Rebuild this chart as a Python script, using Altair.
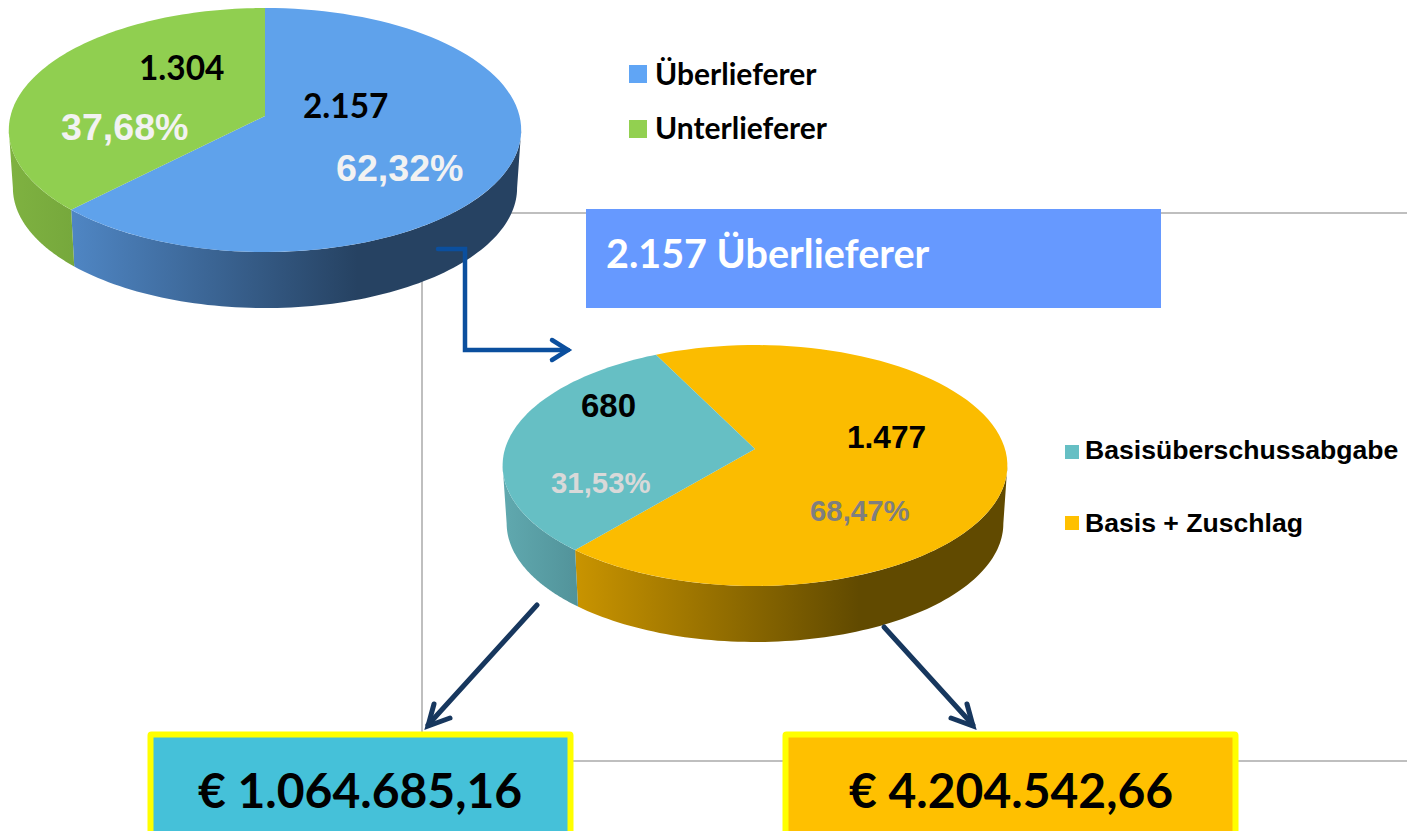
import math
import altair as alt
import pandas as pd

# ---- values ----
pie1_values = [2157, 1304]
pie2_values = [1477, 680]
pie1_names = ["Überlieferer", "Unterlieferer"]
pie2_names = ["Basisüberschussabgabe", "Basis + Zuschlag"]
pie1_number_labels = ["2.157", "1.304"]
pie1_percent_labels = ["62,32%", "37,68%"]
pie2_number_labels = ["1.477", "680"]
pie2_percent_labels = ["68,47%", "31,53%"]
header_text = "2.157 Überlieferer"
money_labels = ["€ 1.064.685,16", "€ 4.204.542,66"]

W, H = 1415, 839
xs = alt.Scale(domain=[8, W - 8], range=[0, W - 16], nice=False, zero=False)
ys = alt.Scale(domain=[H - 8, 8], range=[H - 16, 0], nice=False, zero=False)
X = alt.X("x:Q", scale=xs, axis=None)
Y = alt.Y("y:Q", scale=ys, axis=None)
X2 = alt.X2("x2:Q")
Y2 = alt.Y2("y2:Q")


def proj(deg, geo, lower=False):
    t = math.radians(deg)
    u, v = math.sin(t), -math.cos(t)
    d = 1 - geo["p"] * v
    if lower:
        k = geo["shrink"]
        return geo["B"] * k * u / d, geo["drop"] + geo["A"] * k * v / d
    return geo["B"] * u / d, geo["A"] * v / d


def sweep(a, b, geo, lower=False, n=90):
    return [proj(a + (b - a) * i / n, geo, lower) for i in range(n + 1)]


def to_path(points):
    return "M" + "L".join(f"{px:.2f},{py:.2f}" for px, py in points) + "Z"


def sector(a, b, geo):
    return to_path([(0, 0)] + sweep(a, b, geo))


def wall(a, b, geo):
    return to_path(sweep(a, b, geo) + sweep(b, a, geo, lower=True))


def grad(stops):
    return alt.LinearGradient(
        gradient="linear", x1=0, x2=1, y1=0, y2=0,
        stops=[alt.GradientStop(offset=o, color=c) for o, c in stops],
    )


def shape_layer(cx, cy, path, fill):
    return (
        alt.Chart(pd.DataFrame({"x": [cx], "y": [cy]}))
        .mark_point(filled=True, shape=path, size=4, fill=fill, opacity=1, strokeOpacity=0, strokeWidth=0)
        .encode(x=X, y=Y)
    )


def pie_layers(values, start, geo, top_cols, wall_grads):
    cx, cy = geo["cx"], geo["cy"]
    total = sum(values)
    a0 = start
    a1 = start + 360 * values[0] / total
    a2 = start + 360
    left_ext = 270 - math.degrees(math.asin(geo["p"]))
    right_ext = 90 + math.degrees(math.asin(geo["p"]))
    split = a1 % 360
    return [
        shape_layer(cx, cy, wall(right_ext, split, geo), wall_grads[0]),
        shape_layer(cx, cy, wall(split, left_ext, geo), wall_grads[1]),
        shape_layer(cx, cy, sector(a0, a1, geo), top_cols[0]),
        shape_layer(cx, cy, sector(a1, a2, geo), top_cols[1]),
    ]


def rule_layer(x, y, x2, y2):
    return (
        alt.Chart(pd.DataFrame({"x": [x], "y": [y], "x2": [x2], "y2": [y2]}))
        .mark_rule(color="#BFBFBF", strokeWidth=2)
        .encode(x=X, y=Y, x2=X2, y2=Y2)
    )


def rect_layer(x, y, x2, y2, fill, **kw):
    return (
        alt.Chart(pd.DataFrame({"x": [x], "y": [y], "x2": [x2], "y2": [y2]}))
        .mark_rect(fill=fill, opacity=1, **kw)
        .encode(x=X, y=Y, x2=X2, y2=Y2)
    )


def line_layer(xv, yv, color, width):
    return (
        alt.Chart(pd.DataFrame({"x": xv, "y": yv, "o": list(range(len(xv)))}))
        .mark_line(color=color, strokeWidth=width, strokeCap="round", strokeJoin="miter")
        .encode(x=X, y=Y, order="o:O")
    )


def text_layer(x, y, txt, size, color, font):
    return (
        alt.Chart(pd.DataFrame({"x": [x], "y": [y], "t": [txt]}))
        .mark_text(align="left", baseline="alphabetic", font=font, fontWeight="bold", fontSize=size, color=color)
        .encode(x=X, y=Y, text="t:N")
    )


geo1 = dict(cx=265, cy=116, A=120.4, B=254.5, p=0.1148, shrink=0.984, drop=58.2)
geo2 = dict(cx=755, cy=449, A=118.2, B=250.0, p=0.137, shrink=0.984, drop=58.2)

LATO = "Lato"
ARIAL = "Liberation Sans"
NAVY = "#17375E"
BLUE = "#0B4F9E"

layers = [
    rule_layer(422, 213, 1415, 213),
    rule_layer(422, 213, 422, 761),
    rule_layer(422, 761, 1415, 761),
    rect_layer(586, 209, 1161, 308, "#6699FF"),
]
layers += pie_layers(
    pie1_values, 0, geo1, ["#5FA2EB", "#90CF50"],
    [grad([(0, "#4F86C4"), (0.636, "#264262"), (1, "#264262")]),
     grad([(0, "#7FB241"), (1, "#76A83C")])],
)
layers += pie_layers(
    pie2_values, 333.6, geo2, ["#FBBC00", "#66BFC4"],
    [grad([(0, "#C99400"), (0.657, "#614A00"), (1, "#614A00")]),
     grad([(0, "#60A9AF"), (1, "#52939A")])],
)
layers += [
    line_layer([438, 465, 465, 568], [249, 249, 350, 350], BLUE, 4.5),
    line_layer([552, 568, 552], [340, 350, 360], BLUE, 4.5),
    line_layer([537, 428], [605, 725], NAVY, 5),
    line_layer([434, 428, 450], [704, 726, 718], NAVY, 5),
    line_layer([884, 973], [627, 725], NAVY, 5),
    line_layer([967, 973, 951], [704, 726, 718], NAVY, 5),
    rect_layer(150.5, 734.5, 570.5, 841, "#45C1D9", stroke="#FFFF00", strokeWidth=6, cornerRadius=1),
    rect_layer(785.5, 734.5, 1235.5, 841, "#FFC000", stroke="#FFFF00", strokeWidth=6, cornerRadius=1),
    rect_layer(629, 65, 647, 83, "#60A5F5"),
    rect_layer(629, 120, 647, 138, "#92D050"),
    rect_layer(1065, 445, 1079, 459, "#66BFC4"),
    rect_layer(1065, 516, 1079, 530, "#FFC000"),
    text_layer(303, 118, pie1_number_labels[0], 33.4, "#000000", LATO),
    text_layer(139, 80, pie1_number_labels[1], 33.4, "#000000", LATO),
    text_layer(336, 181, pie1_percent_labels[0], 37.6, "#F2F2F2", ARIAL),
    text_layer(61, 140, pie1_percent_labels[1], 37.6, "#F2F2F2", ARIAL),
    text_layer(847, 448, pie2_number_labels[0], 31.6, "#000000", ARIAL),
    text_layer(581, 417, pie2_number_labels[1], 33, "#000000", ARIAL),
    text_layer(810, 521, pie2_percent_labels[0], 29.4, "#7F7F7F", ARIAL),
    text_layer(551, 493, pie2_percent_labels[1], 29.4, "#D9D9D9", ARIAL),
    text_layer(655, 85, pie1_names[0], 30, "#000000", LATO),
    text_layer(655, 139, pie1_names[1], 30, "#000000", LATO),
    text_layer(1085, 459, pie2_names[0], 26.6, "#000000", ARIAL),
    text_layer(1085, 532, pie2_names[1], 26.6, "#000000", ARIAL),
    text_layer(606, 268, header_text, 39.5, "#FFFFFF", LATO),
    text_layer(198, 808, money_labels[0], 48, "#000000", LATO),
    text_layer(849, 808, money_labels[1], 48, "#000000", LATO),
]

chart = (
    alt.layer(*layers)
    .properties(width=W - 16, height=H - 16, padding=0, background="#FFFFFF",
                autosize=alt.AutoSizeParams(type="none"))
    .configure_view(stroke="transparent", strokeWidth=0)
)
chart.save("out.html", embed_options={"renderer": "svg", "actions": False})
